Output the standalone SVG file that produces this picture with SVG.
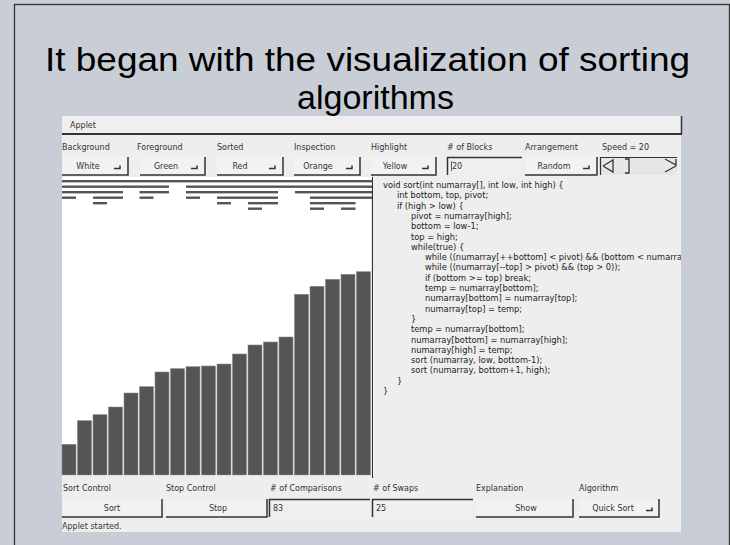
<svg xmlns="http://www.w3.org/2000/svg" width="730" height="545" viewBox="0 0 730 545">
<style>
.ttl{font-family:"Liberation Sans",Arial,sans-serif;font-size:34px;fill:#000;text-anchor:middle}
.ui{font-family:"DejaVu Sans",sans-serif;font-size:8px;fill:#333}
.uc{font-family:"DejaVu Sans",sans-serif;font-size:8px;fill:#333;text-anchor:middle}
.code{font-family:"DejaVu Sans",sans-serif;font-size:8.3px;fill:#222}
.btn{fill:#f2f2f2}
.sh{stroke:#333;stroke-width:1.5;fill:none}
.fld{fill:#efefef}
.bar{fill:#555;stroke:#8a8a8a;stroke-width:0.6}
.tr{fill:#555}
</style>
<defs>
<clipPath id="codeclip"><rect x="374" y="177" width="307" height="299"/></clipPath>
</defs>
<rect x="0" y="0" width="730" height="545" fill="#c9cdd5"/>
<rect x="14.5" y="4.5" width="715" height="560" fill="none" stroke="#333" stroke-width="1.3"/>
<g id="title">
<text class="ttl" x="367.5" y="71" textLength="645" lengthAdjust="spacingAndGlyphs">It began with the visualization of sorting</text>
<text class="ttl" x="375.5" y="109" textLength="157" lengthAdjust="spacingAndGlyphs">algorithms</text>
</g>
<g id="applet">
<rect x="62" y="116" width="620" height="18" fill="#efefef"/>
<line x1="62" y1="134" x2="682" y2="134" stroke="#333" stroke-width="2"/>
<line x1="681.5" y1="116" x2="681.5" y2="134" stroke="#333" stroke-width="1.5"/>
<text class="ui" x="70" y="128">Applet</text>
<rect x="62" y="135" width="619" height="397" fill="#eeeeee"/>
</g>
<g id="top-labels">
<text class="ui" x="62" y="150">Background</text>
<text class="ui" x="137" y="150">Foreground</text>
<text class="ui" x="217" y="150">Sorted</text>
<text class="ui" x="294" y="150">Inspection</text>
<text class="ui" x="371" y="150">Highlight</text>
<text class="ui" x="447" y="150"># of Blocks</text>
<text class="ui" x="525" y="150">Arrangement</text>
<text class="ui" x="602" y="150">Speed = 20</text>
</g>
<g id="background-choice">
<rect class="btn" x="62" y="157" width="66" height="18"/>
<path class="sh" d="M62,175 H128 V157"/>
<text class="uc" x="88" y="169">White</text>
<path d="M114,168.5 h6 v-3" stroke="#333" stroke-width="1.5" fill="none"/>
</g>
<g id="foreground-choice">
<rect class="btn" x="140" y="157" width="65" height="18"/>
<path class="sh" d="M140,175 H205 V157"/>
<text class="uc" x="166" y="169">Green</text>
<path d="M191,168.5 h6 v-3" stroke="#333" stroke-width="1.5" fill="none"/>
</g>
<g id="sorted-choice">
<rect class="btn" x="217" y="157" width="66" height="18"/>
<path class="sh" d="M217,175 H283 V157"/>
<text class="uc" x="240" y="169">Red</text>
<path d="M269,168.5 h6 v-3" stroke="#333" stroke-width="1.5" fill="none"/>
</g>
<g id="inspection-choice">
<rect class="btn" x="294" y="157" width="66" height="18"/>
<path class="sh" d="M294,175 H360 V157"/>
<text class="uc" x="318" y="169">Orange</text>
<path d="M346,168.5 h6 v-3" stroke="#333" stroke-width="1.5" fill="none"/>
</g>
<g id="highlight-choice">
<rect class="btn" x="371" y="157" width="65" height="18"/>
<path class="sh" d="M371,175 H436 V157"/>
<text class="uc" x="395" y="169">Yellow</text>
<path d="M422,168.5 h6 v-3" stroke="#333" stroke-width="1.5" fill="none"/>
</g>
<g id="blocks-field">
<rect class="fld" x="447" y="157" width="75" height="18"/>
<path class="sh" d="M447.5,175 V157.5 H522"/>
<line x1="451.5" y1="161" x2="451.5" y2="171" stroke="#333" stroke-width="0.8"/>
<text class="ui" x="452" y="169">20</text>
</g>
<g id="arrangement-choice">
<rect class="btn" x="525" y="157" width="72" height="18"/>
<path class="sh" d="M525,175 H597 V157"/>
<text class="uc" x="554" y="169">Random</text>
<path d="M583,168.5 h6 v-3" stroke="#333" stroke-width="1.5" fill="none"/>
</g>
<g id="speed-scrollbar">
<rect x="600" y="157" width="77" height="18" fill="#e6e6e6"/>
<path d="M600.5,175 V157.5 H677" stroke="#333" stroke-width="1.2" fill="none"/>
<path d="M603,166 L613,160 M603,166 L613,172 L613,159" stroke="#333" stroke-width="1.3" fill="none"/>
<path d="M625,159 h4 v14 h-4" stroke="#333" stroke-width="1.3" fill="none"/>
<path d="M665,172 L676,166 M665,159 L676,165 M676,159 V166" stroke="#333" stroke-width="1.3" fill="none"/>
</g>
<g id="bar-area">
<rect x="62" y="177" width="310" height="299" fill="#ffffff"/>
<line x1="372.5" y1="177" x2="372.5" y2="478" stroke="#333" stroke-width="1.2"/>
</g>
<g id="recursion-tree">
<rect class="tr" x="62" y="180" width="310" height="2.4"/>
<rect class="tr" x="62" y="185.5" width="107" height="2.4"/>
<rect class="tr" x="186" y="185.5" width="186" height="2.4"/>
<rect class="tr" x="62" y="191" width="61" height="2.4"/>
<rect class="tr" x="139.5" y="191" width="29.5" height="2.4"/>
<rect class="tr" x="186" y="191" width="92" height="2.4"/>
<rect class="tr" x="295" y="191" width="77" height="2.4"/>
<rect class="tr" x="62" y="196.5" width="14" height="2.4"/>
<rect class="tr" x="93" y="196.5" width="30" height="2.4"/>
<rect class="tr" x="139.5" y="196.5" width="14" height="2.4"/>
<rect class="tr" x="186" y="196.5" width="14" height="2.4"/>
<rect class="tr" x="217" y="196.5" width="61" height="2.4"/>
<rect class="tr" x="310" y="196.5" width="62" height="2.4"/>
<rect class="tr" x="93" y="202" width="14" height="2.4"/>
<rect class="tr" x="217" y="202" width="14" height="2.4"/>
<rect class="tr" x="248" y="202" width="30" height="2.4"/>
<rect class="tr" x="310" y="202" width="45.5" height="2.4"/>
<rect class="tr" x="248" y="207.5" width="14" height="2.4"/>
<rect class="tr" x="310" y="207.5" width="14" height="2.4"/>
<rect class="tr" x="341" y="207.5" width="14.5" height="2.4"/>
</g>
<g id="bars">
<rect class="bar" x="62" y="444.3" width="14" height="30.7"/>
<rect class="bar" x="77.5" y="420.7" width="14" height="54.3"/>
<rect class="bar" x="93" y="414.7" width="14" height="60.3"/>
<rect class="bar" x="108.5" y="407" width="14" height="68"/>
<rect class="bar" x="124" y="393" width="14" height="82"/>
<rect class="bar" x="139.5" y="386.7" width="14" height="88.3"/>
<rect class="bar" x="155" y="372" width="14" height="103"/>
<rect class="bar" x="170.5" y="368.7" width="14" height="106.3"/>
<rect class="bar" x="186" y="366.7" width="14" height="108.3"/>
<rect class="bar" x="201.5" y="366" width="14" height="109"/>
<rect class="bar" x="217" y="364" width="14" height="111"/>
<rect class="bar" x="232.5" y="354" width="14" height="121"/>
<rect class="bar" x="248" y="345" width="14" height="130"/>
<rect class="bar" x="263.5" y="342" width="14" height="133"/>
<rect class="bar" x="279" y="337" width="14" height="138"/>
<rect class="bar" x="294.5" y="294.3" width="14" height="180.7"/>
<rect class="bar" x="310" y="286.3" width="14" height="188.7"/>
<rect class="bar" x="325.5" y="279.3" width="14" height="195.7"/>
<rect class="bar" x="341" y="274.3" width="14" height="200.7"/>
<rect class="bar" x="356.5" y="271.7" width="14" height="203.3"/>
</g>
<g id="code-panel">
<rect x="373" y="177" width="308" height="299" fill="#eeeeee"/>
<g clip-path="url(#codeclip)">
<text class="code" x="383" y="188">void sort(int numarray[], int low, int high) {</text>
<text class="code" x="397" y="198.3">int bottom, top, pivot;</text>
<text class="code" x="397" y="208.6">if (high &gt; low) {</text>
<text class="code" x="411" y="218.9">pivot = numarray[high];</text>
<text class="code" x="411" y="229.2">bottom = low-1;</text>
<text class="code" x="411" y="239.5">top = high;</text>
<text class="code" x="411" y="249.8">while(true) {</text>
<text class="code" x="425" y="260.1">while ((numarray[++bottom] &lt; pivot) &amp;&amp; (bottom &lt; numarray</text>
<text class="code" x="425" y="270.4">while ((numarray[--top] &gt; pivot) &amp;&amp; (top &gt; 0));</text>
<text class="code" x="425" y="280.7">if (bottom &gt;= top) break;</text>
<text class="code" x="425" y="291">temp = numarray[bottom];</text>
<text class="code" x="425" y="301.3">numarray[bottom] = numarray[top];</text>
<text class="code" x="425" y="311.6">numarray[top] = temp;</text>
<text class="code" x="411" y="321.9">}</text>
<text class="code" x="411" y="332.2">temp = numarray[bottom];</text>
<text class="code" x="411" y="342.5">numarray[bottom] = numarray[high];</text>
<text class="code" x="411" y="352.8">numarray[high] = temp;</text>
<text class="code" x="411" y="363.1">sort (numarray, low, bottom-1);</text>
<text class="code" x="411" y="373.4">sort (numarray, bottom+1, high);</text>
<text class="code" x="397" y="383.7">}</text>
<text class="code" x="383" y="394">}</text>
</g>
</g>
<g id="bottom-labels">
<text class="ui" x="63" y="491">Sort Control</text>
<text class="ui" x="166" y="491">Stop Control</text>
<text class="ui" x="270" y="491"># of Comparisons</text>
<text class="ui" x="373" y="491"># of Swaps</text>
<text class="ui" x="476" y="491">Explanation</text>
<text class="ui" x="579" y="491">Algorithm</text>
</g>
<g id="sort-button">
<rect class="btn" x="62" y="499" width="100" height="18"/>
<path class="sh" d="M62,517 H162 V499"/>
<text class="uc" x="112" y="511">Sort</text>
</g>
<g id="stop-button">
<rect class="btn" x="166" y="499" width="101" height="18"/>
<path class="sh" d="M166,517 H267 V499"/>
<text class="uc" x="218" y="511">Stop</text>
</g>
<g id="comparisons-field">
<rect class="fld" x="269" y="499" width="101" height="18"/>
<path class="sh" d="M269.5,517 V499.5 H370"/>
<text class="ui" x="273" y="511">83</text>
</g>
<g id="swaps-field">
<rect class="fld" x="372" y="499" width="101" height="18"/>
<path class="sh" d="M372.5,517 V499.5 H473"/>
<text class="ui" x="376" y="511">25</text>
</g>
<g id="show-button">
<rect class="btn" x="476" y="499" width="97" height="18"/>
<path class="sh" d="M476,517 H573 V499"/>
<text class="uc" x="526" y="511">Show</text>
</g>
<g id="algorithm-choice">
<rect class="btn" x="579" y="499" width="80" height="18"/>
<path class="sh" d="M579,517 H659 V499"/>
<text class="uc" x="613" y="511">Quick Sort</text>
<path d="M646,510.5 h6 v-3" stroke="#333" stroke-width="1.5" fill="none"/>
</g>
<g id="status">
<text class="ui" x="62" y="529">Applet started.</text>
</g>
</svg>
